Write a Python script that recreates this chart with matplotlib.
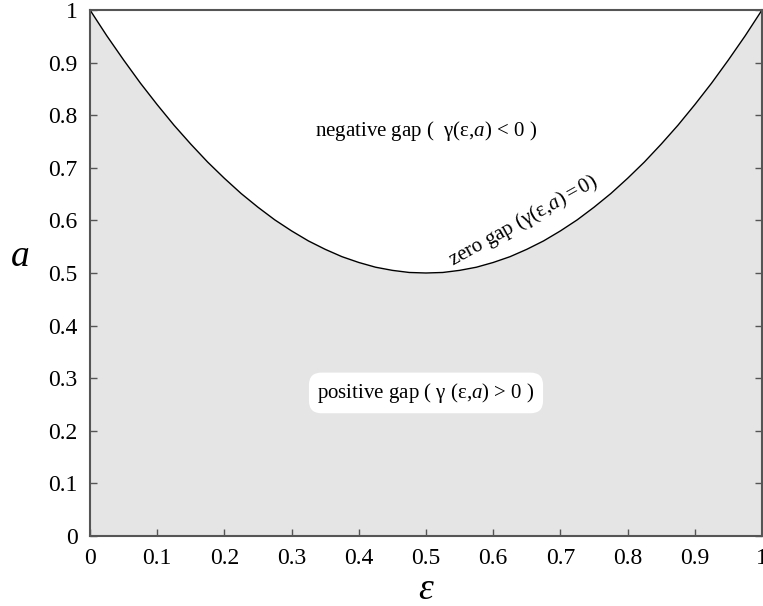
import matplotlib
matplotlib.use("Agg")
import matplotlib.pyplot as plt

# data
eps = [0.0, 0.025, 0.05, 0.075, 0.1, 0.125, 0.15, 0.175, 0.2, 0.225, 0.25,
       0.275, 0.3, 0.325, 0.35, 0.375, 0.4, 0.425, 0.45, 0.475, 0.5,
       0.525, 0.55, 0.575, 0.6, 0.625, 0.65, 0.675, 0.7, 0.725, 0.75,
       0.775, 0.8, 0.825, 0.85, 0.875, 0.9, 0.925, 0.95, 0.975, 1.0]
a_boundary = [1.0, 0.951, 0.905, 0.861, 0.82, 0.781, 0.745, 0.711, 0.68, 0.651, 0.625,
              0.601, 0.58, 0.561, 0.545, 0.531, 0.52, 0.511, 0.505, 0.501, 0.5,
              0.501, 0.505, 0.511, 0.52, 0.531, 0.545, 0.561, 0.58, 0.601, 0.625,
              0.651, 0.68, 0.711, 0.745, 0.781, 0.82, 0.861, 0.905, 0.951, 1.0]
xticks = [0, 0.1, 0.2, 0.3, 0.4, 0.5, 0.6, 0.7, 0.8, 0.9, 1]
xtick_labels = ["0", "0.1", "0.2", "0.3", "0.4", "0.5", "0.6", "0.7", "0.8", "0.9", "1"]
yticks = [0, 0.1, 0.2, 0.3, 0.4, 0.5, 0.6, 0.7, 0.8, 0.9, 1]
ytick_labels = ["0", "0.1", "0.2", "0.3", "0.4", "0.5", "0.6", "0.7", "0.8", "0.9", "1"]

plt.rcParams['font.family'] = ['Liberation Serif', 'DejaVu Serif']
plt.rcParams['mathtext.fontset'] = 'custom'
plt.rcParams['mathtext.rm'] = 'Liberation Serif'
plt.rcParams['mathtext.it'] = 'Liberation Serif:italic'

fig = plt.figure(figsize=(7.63, 6.06), dpi=100)
ax = fig.add_axes([90/763, 1-536/606, 672/763, 526/606])

ax.fill_between(eps, 0, a_boundary, color='#e5e5e5', lw=0)
ax.plot(eps, a_boundary, color='black', lw=1.0)

ax.set_xlim(0, 1)
ax.set_ylim(0, 1)
ax.set_xticks(xticks)
ax.set_xticklabels(xtick_labels)
ax.set_yticks(yticks)
ax.set_yticklabels(ytick_labels)
ax.tick_params(direction='in', length=5, width=1, color='#555555', labelsize=17,
               right=True, top=False)
ax.tick_params(axis='y', pad=9)
ax.tick_params(axis='x', pad=9)
for s in ax.spines.values():
    s.set_color('#555555')
    s.set_linewidth(1.5)

ax.set_xlabel('ε', fontsize=27, style='italic', va='center')
ax.xaxis.set_label_coords(0.5, -0.102)
ax.set_ylabel('a', fontsize=27, style='italic', rotation=0, va='center', ha='center')
ax.yaxis.set_label_coords(-0.104, 0.53)

ax.text(0.5, 0.77, r'negative gap (  γ(ε,$a$) < 0 )', fontsize=15,
        ha='center', va='center')
ax.text(0.5, 0.272, r'positive gap ( γ (ε,$a$) > 0 )', fontsize=15,
        ha='center', va='center',
        bbox=dict(boxstyle='round,pad=0.4,rounding_size=0.6', fc='white', ec='none'))
ax.text(0.645, 0.598, r'zero gap (γ(ε,$a$)$=$0)', fontsize=15,
        ha='center', va='center', rotation=29, rotation_mode='anchor')

fig.savefig('out.png', dpi=100)
